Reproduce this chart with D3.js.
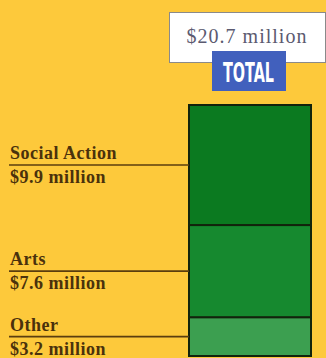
<!DOCTYPE html>
<html>
<head>
<meta charset="utf-8">
<script src="https://cdn.jsdelivr.net/npm/d3@7"></script>
<style>
  html, body { margin: 0; padding: 0; background: #fdc93b; }
  svg { display: block; }
</style>
</head>
<body>
<script>
// stacked single bar: funding by category
var categories = ["Social Action", "Arts", "Other"];
var amounts = [9.9, 7.6, 3.2];
var amountLabels = ["$9.9 million", "$7.6 million", "$3.2 million"];
var totalLabel = "$20.7 million";
var totalTitle = "TOTAL";

var W = 326, H = 358;
var segColors = ["#0b7a20", "#16892f", "#3c9f50"];

var svg = d3.select("body").append("svg")
  .attr("width", W)
  .attr("height", H);

svg.append("rect").attr("width", W).attr("height", H).attr("fill", "#fdc93b");

var total = d3.sum(amounts);
var y = d3.scaleLinear().domain([0, total]).range([356, 105]);
var x = d3.scaleBand().domain(["all"]).range([189, 311]).padding(0);

// build stacked segments from the bottom up (Other at bottom)
var segs = [];
var acc = 0;
for (var i = categories.length - 1; i >= 0; i--) {
  segs.push({ name: categories[i], label: amountLabels[i], v: amounts[i], y0: acc, y1: acc + amounts[i], color: segColors[i] });
  acc += amounts[i];
}

var g = svg.append("g");

g.selectAll("rect.seg")
  .data(segs)
  .enter().append("rect")
  .attr("class", "seg")
  .attr("x", x("all"))
  .attr("width", x.bandwidth())
  .attr("y", function(d) { return y(d.y1); })
  .attr("height", function(d) { return y(d.y0) - y(d.y1); })
  .attr("fill", function(d) { return d.color; })
  .attr("stroke", "#12230c")
  .attr("stroke-width", 2);

// labels on the left, a rule leading to the middle of each segment
var lab = g.selectAll("g.lab")
  .data(segs)
  .enter().append("g")
  .attr("class", "lab")
  .attr("transform", function(d) { return "translate(0," + y((d.y0 + d.y1) / 2) + ")"; });

lab.append("line")
  .attr("x1", 9).attr("x2", x("all"))
  .attr("y1", 0).attr("y2", 0)
  .attr("stroke", "#5a3d0e")
  .attr("stroke-width", 1.6);

lab.append("text")
  .attr("x", 10).attr("y", -6)
  .attr("font-family", "Liberation Serif, serif")
  .attr("font-weight", "bold")
  .attr("font-size", 18)
  .attr("letter-spacing", 0.5)
  .attr("fill", "#4a310c")
  .text(function(d) { return d.name; });

lab.append("text")
  .attr("x", 10).attr("y", 18)
  .attr("font-family", "Liberation Serif, serif")
  .attr("font-weight", "bold")
  .attr("font-size", 18)
  .attr("letter-spacing", 0.5)
  .attr("fill", "#4a310c")
  .text(function(d) { return d.label; });

// total box at the top
svg.append("rect")
  .attr("x", 169.5).attr("y", 12.5)
  .attr("width", 156).attr("height", 50)
  .attr("fill", "#ffffff")
  .attr("stroke", "#8a8a8a")
  .attr("stroke-width", 1);

svg.append("text")
  .attr("x", 247).attr("y", 43)
  .attr("text-anchor", "middle")
  .attr("font-family", "Liberation Serif, serif")
  .attr("font-size", 20)
  .attr("letter-spacing", 1)
  .attr("fill", "#5b5a70")
  .text(totalLabel);

svg.append("rect")
  .attr("x", 212).attr("y", 51)
  .attr("width", 74).attr("height", 40)
  .attr("fill", "#4160bd");

svg.append("text")
  .attr("x", 223).attr("y", 82)
  .attr("font-family", "DejaVu Sans Condensed, DejaVu Sans, sans-serif")
  .attr("font-weight", "bold")
  .attr("font-size", 27)
  .attr("textLength", 51)
  .attr("lengthAdjust", "spacingAndGlyphs")
  .attr("fill", "#ffffff")
  .text(totalTitle);
</script>
</body>
</html>
